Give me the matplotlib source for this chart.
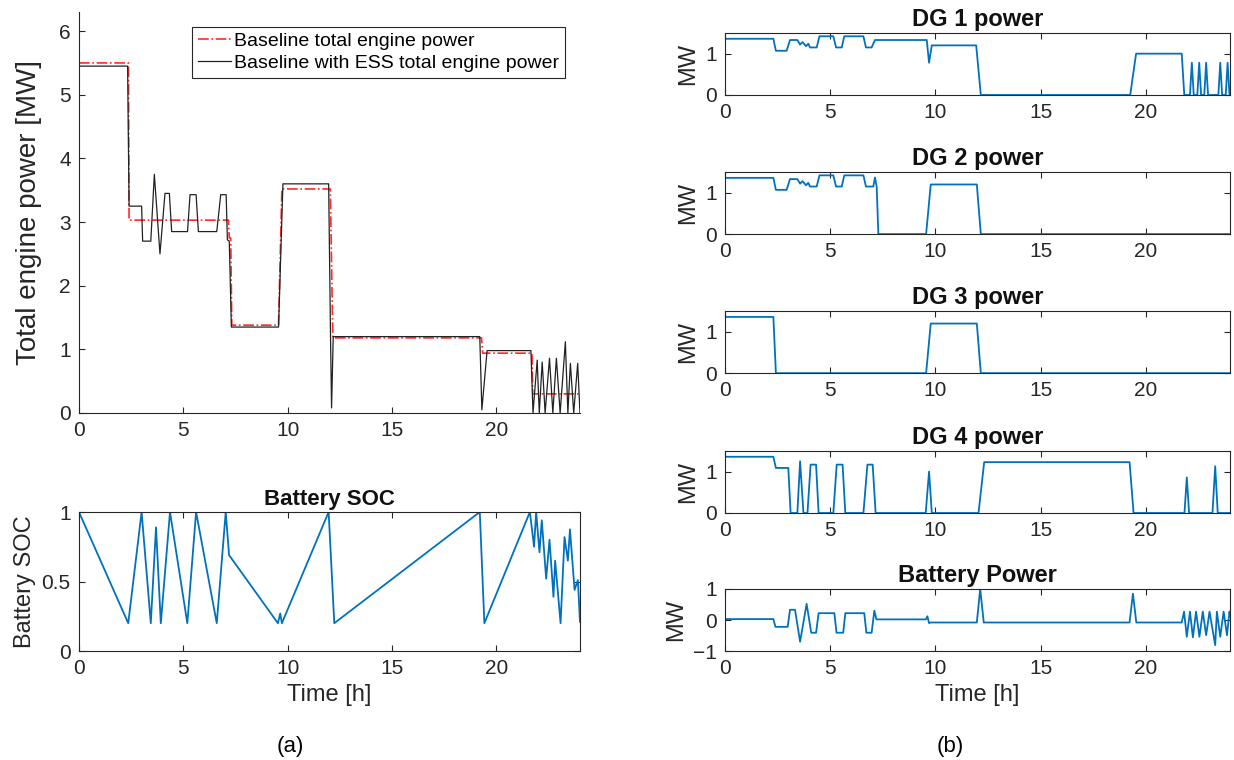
import matplotlib
matplotlib.use('Agg')
import matplotlib.pyplot as plt

# Шрифт, похожий на Arial
plt.rcParams['font.family'] = ['Liberation Sans', 'DejaVu Sans']

BLUE = '#0072BD'
AXC = '#262626'

# --- Суммарная мощность двигателей (левый верхний график) ---
t_base = [0, 2.37, 2.40, 7.16, 7.20, 7.27, 7.32, 9.56, 9.72, 12.04, 12.16, 19.28, 19.34, 21.70, 21.74, 24]
p_base = [5.5, 5.5, 3.03, 3.03, 2.75, 2.75, 1.38, 1.38, 3.52, 3.52, 1.18, 1.18, 0.94, 0.94, 0.30, 0.30]

t_ess = [0, 2.33, 2.40, 3.00, 3.05, 3.44, 3.61, 3.88, 4.12, 4.33, 4.44, 5.20, 5.32, 5.61, 5.72,
         6.60, 6.79, 7.05, 7.11, 7.20, 7.30, 9.56, 9.77, 11.96, 12.05, 12.10, 12.18,
         19.20, 19.30, 19.55, 21.65, 21.75, 21.95, 22.05, 22.19, 22.33, 22.54, 22.70,
         22.87, 23.05, 23.30, 23.42, 23.54, 23.70, 23.89, 24]
p_ess = [5.45, 5.45, 3.25, 3.25, 2.70, 2.70, 3.75, 2.50, 3.45, 3.45, 2.85, 2.85, 3.43, 3.43, 2.85,
         2.85, 3.43, 3.43, 2.72, 2.70, 1.35, 1.35, 3.60, 3.60, 1.20, 0.08, 1.20,
         1.20, 0.05, 0.98, 0.98, 0.0, 0.83, 0.0, 0.80, 0.0, 0.86, 0.0,
         0.86, 0.0, 1.12, 0.0, 0.78, 0.0, 0.78, 0.0]

# --- SOC батареи ---
t_soc = [0, 2.36, 3.00, 3.44, 3.69, 3.92, 4.36, 5.19, 5.61, 6.60, 7.03, 7.19, 9.53, 9.64, 9.72,
         11.96, 12.23, 19.20, 19.42, 21.60, 21.80, 21.90, 22.06, 22.17, 22.38, 22.54, 22.73,
         22.81, 23.07, 23.26, 23.42, 23.52, 23.74, 23.90, 24]
soc = [1.0, 0.2, 1.0, 0.2, 0.89, 0.2, 1.0, 0.2, 1.0, 0.2, 1.0, 0.69, 0.2, 0.27, 0.2,
       1.0, 0.2, 1.0, 0.2, 1.0, 0.75, 1.0, 0.71, 0.94, 0.52, 0.80, 0.39,
       0.65, 0.2, 0.82, 0.65, 0.875, 0.44, 0.51, 0.21]

# --- Мощность генераторов ---
t_dg1 = [0, 2.30, 2.42, 2.93, 3.09, 3.44, 3.57, 3.69, 3.85, 3.96, 4.04, 4.36, 4.49, 5.15, 5.28,
         5.55, 5.67, 6.58, 6.70, 6.97, 7.13, 9.59, 9.70, 9.83, 11.94, 12.16, 19.26, 19.54,
         21.71, 21.83, 22.10, 22.19, 22.28, 22.45, 22.54, 22.63, 22.78, 22.87, 22.96,
         23.45, 23.54, 23.63, 23.80, 23.89, 23.98, 24]
p_dg1 = [1.36, 1.36, 1.07, 1.07, 1.33, 1.33, 1.22, 1.28, 1.18, 1.24, 1.15, 1.15, 1.42, 1.42, 1.15,
         1.15, 1.42, 1.42, 1.15, 1.15, 1.33, 1.33, 0.78, 1.20, 1.20, 0.0, 0.0, 1.0,
         1.0, 0.0, 0.0, 0.78, 0.0, 0.0, 0.78, 0.0, 0.0, 0.78, 0.0,
         0.0, 0.78, 0.0, 0.0, 0.78, 0.0, 0.0]

t_dg2 = [0, 2.30, 2.42, 2.93, 3.09, 3.44, 3.57, 3.69, 3.85, 3.96, 4.04, 4.36, 4.49, 5.15, 5.28,
         5.55, 5.67, 6.58, 6.70, 7.05, 7.13, 7.21, 7.29, 9.56, 9.78, 11.97, 12.16, 24]
p_dg2 = [1.36, 1.36, 1.07, 1.07, 1.33, 1.33, 1.22, 1.28, 1.18, 1.24, 1.15, 1.15, 1.42, 1.42, 1.15,
         1.15, 1.42, 1.42, 1.15, 1.15, 1.37, 1.15, 0.0, 0.0, 1.20, 1.20, 0.0, 0.0]

t_dg3 = [0, 2.30, 2.42, 9.56, 9.78, 11.97, 12.16, 24]
p_dg3 = [1.36, 1.36, 0.0, 0.0, 1.20, 1.20, 0.0, 0.0]

t_dg4 = [0, 2.30, 2.42, 3.01, 3.12, 3.44, 3.57, 3.73, 3.92, 4.07, 4.33, 4.45, 5.15, 5.31, 5.59,
         5.72, 6.58, 6.77, 7.02, 7.16, 9.54, 9.70, 9.83, 12.05, 12.32, 19.23, 19.42,
         21.84, 21.95, 22.06, 23.17, 23.30, 23.42, 24]
p_dg4 = [1.36, 1.36, 1.09, 1.09, 0.0, 0.0, 1.25, 0.0, 0.0, 1.17, 1.17, 0.0, 0.0, 1.17, 1.17,
         0.0, 0.0, 1.17, 1.17, 0.0, 0.0, 1.0, 0.0, 0.0, 1.23, 1.23, 0.0,
         0.0, 0.86, 0.0, 0.0, 1.13, 0.0, 0.0]

# --- Мощность батареи ---
t_bp = [0, 2.30, 2.40, 2.98, 3.09, 3.33, 3.57, 3.88, 4.10, 4.33, 4.45, 5.20, 5.30, 5.62, 5.72,
        6.62, 6.72, 6.97, 7.10, 7.20, 9.55, 9.62, 9.70, 9.78, 11.97, 12.13, 12.30,
        19.23, 19.39, 19.55, 21.71, 21.82, 21.95, 22.10, 22.24, 22.39, 22.55, 22.71,
        22.87, 23.03, 23.30, 23.38, 23.54, 23.70, 23.86, 23.98, 24]
p_bp = [0.03, 0.03, -0.22, -0.22, 0.33, 0.33, -0.70, 0.52, -0.41, -0.41, 0.22, 0.22, -0.41, -0.41, 0.22,
        0.22, -0.41, -0.41, 0.30, 0.02, 0.02, 0.12, -0.10, -0.08, -0.08, 1.0, -0.08,
        -0.08, 0.85, -0.08, -0.08, 0.27, -0.54, 0.27, -0.56, 0.27, -0.54, 0.27,
        -0.49, 0.27, -0.81, 0.27, -0.54, 0.27, -0.49, 0.27, 0.15]

XTICKS = [0, 5, 10, 15, 20]
TICK_FS = 15
LABEL_FS = 17
TITLE_FS = 17


def style_axes(ax, box=True):
    """Оформление осей в стиле MATLAB"""
    ax.set_xlim(0, 24)
    ax.set_xticks(XTICKS)
    for s in ax.spines.values():
        s.set_color(AXC)
        s.set_linewidth(0.8)
    ax.spines['top'].set_visible(box)
    ax.spines['right'].set_visible(box)
    ax.tick_params(direction='in', length=4, width=0.8, colors=AXC,
                   labelsize=TICK_FS, top=box, right=box, pad=6)


fig = plt.figure(figsize=(12.34, 7.6), dpi=100)

# (a) суммарная мощность
ax = fig.add_axes([0.064, 0.4566, 0.406, 0.5276])
ax.plot(t_base, p_base, '-.', color='#FF2A2A', lw=1.2, label='Baseline total engine power')
ax.plot(t_ess, p_ess, '-', color='#222222', lw=0.9, label='Baseline with ESS total engine power')
style_axes(ax, box=False)
ax.set_ylim(0, 6.3)
ax.set_yticks(range(0, 7))
ax.set_ylabel('Total engine power [MW]', fontsize=20, color=AXC, labelpad=12)
leg = ax.legend(loc='upper left', bbox_to_anchor=(0.2255, 0.963), borderaxespad=0,
                fontsize=14, handlelength=1.7, handletextpad=0.15, borderpad=0.3,
                labelspacing=0.2, fancybox=False, framealpha=1)
leg.get_frame().set_edgecolor(AXC)
leg.get_frame().set_linewidth(0.8)

# SOC батареи
ax = fig.add_axes([0.064, 0.1434, 0.406, 0.1829])
ax.plot(t_soc, soc, color=BLUE, lw=1.3)
style_axes(ax)
ax.set_ylim(0, 1)
ax.set_yticks([0, 0.5, 1])
ax.set_yticklabels(['0', '0.5', '1'])
ax.set_title('Battery SOC', fontsize=16, fontweight='bold', color='#111111', pad=5)
ax.set_ylabel('Battery SOC', fontsize=LABEL_FS, color=AXC)
ax.set_xlabel('Time [h]', fontsize=LABEL_FS, color=AXC)

# (b) генераторы и батарея
panels = [
    (t_dg1, p_dg1, 'DG 1 power', 0.875),
    (t_dg2, p_dg2, 'DG 2 power', 0.692),
    (t_dg3, p_dg3, 'DG 3 power', 0.509),
    (t_dg4, p_dg4, 'DG 4 power', 0.325),
]
for t, p, title, bottom in panels:
    ax = fig.add_axes([0.5875, bottom, 0.4092, 0.0816])
    ax.plot(t, p, color=BLUE, lw=1.3)
    style_axes(ax)
    ax.set_ylim(0, 1.5)
    ax.set_yticks([0, 1])
    ax.set_ylabel('MW', fontsize=LABEL_FS, color=AXC)
    ax.set_title(title, fontsize=TITLE_FS, fontweight='bold', color='#111111', pad=5)

ax = fig.add_axes([0.5875, 0.1434, 0.4092, 0.0816])
ax.plot(t_bp, p_bp, color=BLUE, lw=1.3)
style_axes(ax)
ax.set_ylim(-1, 1)
ax.set_yticks([-1, 0, 1])
ax.set_ylabel('MW', fontsize=LABEL_FS, color=AXC)
ax.set_title('Battery Power', fontsize=TITLE_FS, fontweight='bold', color='#111111', pad=5)
ax.set_xlabel('Time [h]', fontsize=LABEL_FS, color=AXC)

fig.text(0.235, 0.018, '(a)', fontsize=16, ha='center', va='center')
fig.text(0.770, 0.018, '(b)', fontsize=16, ha='center', va='center')

fig.savefig('out.png', dpi=100, facecolor='white')
